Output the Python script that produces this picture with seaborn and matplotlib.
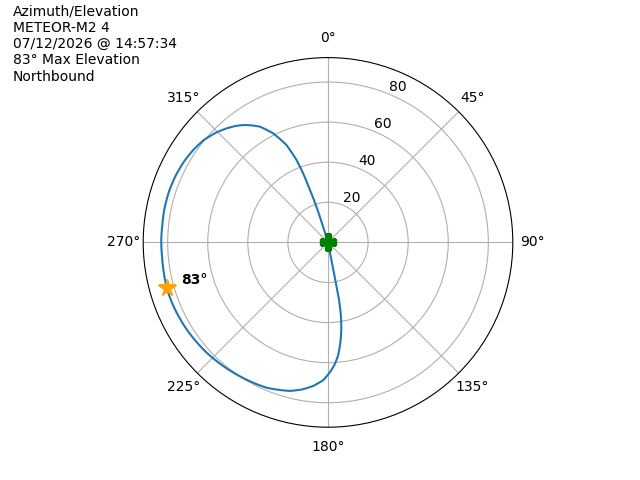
import numpy as np
import matplotlib
matplotlib.use("Agg")
import matplotlib.pyplot as plt
import seaborn as sns

# pass track (azimuth deg, elevation deg), south -> north
azimuth = [169.0, 169.0, 169.1, 170.0, 171.3, 173.0, 175.0, 177.0, 179.3, 182.0,
           185.9, 190.0, 194.4, 202.9, 216.0, 227.7, 238.3, 247.6, 254.2, 259.4,
           265.2, 270.9, 275.5, 281.3, 287.2, 293.3, 299.2, 304.5, 309.4, 314.3,
           318.4, 321.5, 324.2, 327.0, 329.5, 333.3, 336.9, 339.1, 340.2, 341.0,
           342.0, 342.5, 343.0]
elevation = [0.0, 15.5, 29.0, 37.0, 43.9, 50.5, 56.9, 61.2, 65.0, 68.8,
             72.0, 74.5, 76.5, 78.7, 80.3, 81.8, 82.8, 83.4, 83.6, 83.3,
             83.1, 83.2, 83.1, 83.3, 83.3, 83.0, 82.4, 81.5, 80.3, 78.3,
             76.1, 74.2, 72.2, 69.6, 67.0, 60.9, 52.8, 44.0, 36.7, 27.8,
             18.8, 11.8, 0.0]

header = ["Azimuth/Elevation", "METEOR-M2 4", "07/12/2026 @ 14:57:34",
          "83\u00b0 Max Elevation", "Northbound"]

theta = np.radians(azimuth)
elev = np.array(elevation)

fig = plt.figure(figsize=(6.4, 4.8), dpi=100)
ax = fig.add_subplot(111, projection='polar')
ax.set_theta_zero_location('N')
ax.set_theta_direction(-1)

sns.lineplot(x=theta, y=elev, sort=False, estimator=None, ax=ax,
             color='#1f77b4', linewidth=1.5)
# let the polar transform bend segments along the track instead of chords
ax.lines[0].get_path()._interpolation_steps = 30

# start point and max elevation marker
ax.plot(theta[0], elev[0], marker='P', color='green', markersize=12, linestyle='')
imax = int(np.argmax(elev))
ax.plot(theta[imax], elev[imax], marker='*', color='orange', markersize=13, linestyle='')
ax.annotate(f"{int(elev[imax])}\u00b0", xy=(theta[imax], elev[imax]), xytext=(10, 6),
            textcoords='offset points', fontweight='bold', va='center', ha='left')

ax.set_ylim(0, 92.2)
ax.set_xlabel('')
ax.set_ylabel('')

fig.text(0.02, 0.99, "\n".join(header), ha='left', va='top', fontsize=10)

plt.savefig('out.png', dpi=100)
plt.close()
